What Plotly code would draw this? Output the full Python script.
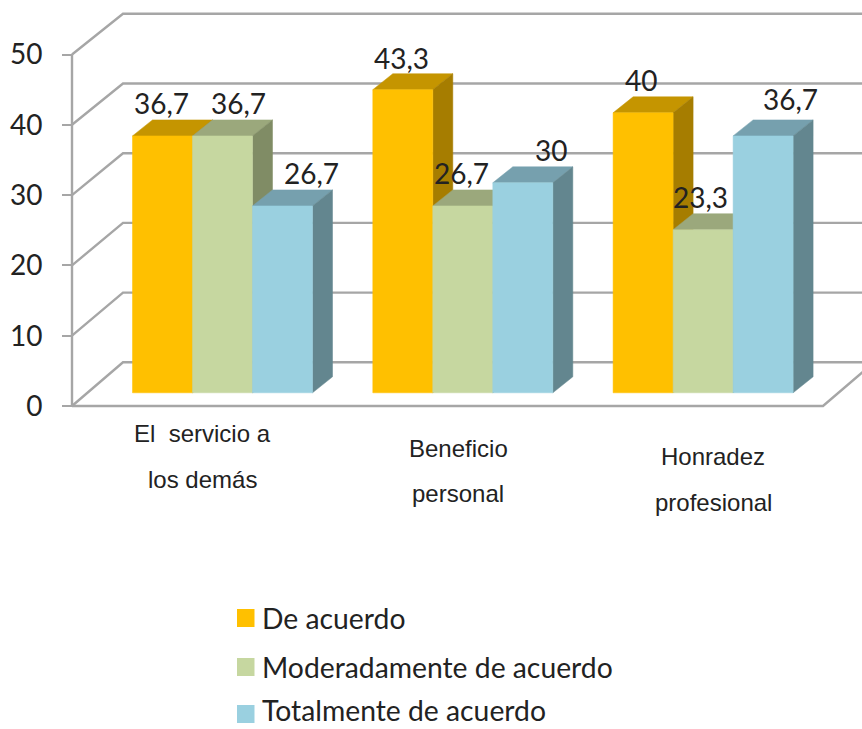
import plotly.graph_objects as go

# Survey data
categories = ["El  servicio a|los demás", "Beneficio|personal", "Honradez|profesional"]
series_names = ["De acuerdo", "Moderadamente de acuerdo", "Totalmente de acuerdo"]
de_acuerdo = [36.7, 43.3, 40]
moderadamente = [36.7, 26.7, 23.3]
totalmente = [26.7, 30, 36.7]
tick_values = [0, 10, 20, 30, 40, 50]

# Per-series face colours: front, top, side
front_colors = ["#FFC000", "#C6D7A0", "#9AD0E0"]
top_colors = ["#C59500", "#9BA87C", "#76A0AE"]
side_colors = ["#A67D00", "#808C65", "#63868F"]
GRID = "#A6A6A6"
INK = "#222222"

W, H = 862, 729
CAT_ORIGIN, CAT_STEP = 222.5, 240.3   # canvas x of the first cluster, cluster spacing
WALL_ZERO, WALL_UNIT = 406, 7.03      # front axis: canvas y of 0, px per unit
BAR_ZERO, BAR_UNIT = 392.8, 7.0       # bar front plane: canvas y of 0, px per unit
BAR_W = 60 / CAT_STEP
BAR_DX, BAR_DY = 20 / CAT_STEP, 16 / BAR_UNIT
AXIS_X = (72 - CAT_ORIGIN) / CAT_STEP
WALL_DX = 51 / CAT_STEP
WALL_DY = 43.7 / WALL_UNIT
BACK_RATIO = 6.97 / WALL_UNIT
FLOOR_END = (823 - CAT_ORIGIN) / CAT_STEP
X_MAX = (W - CAT_ORIGIN) / CAT_STEP

fig = go.Figure()


def line(xs, ys):
    fig.add_trace(go.Scatter(x=xs, y=ys, mode="lines", showlegend=False, hoverinfo="skip",
                             line=dict(color=GRID, width=2.4)))


def face(xs, ys, color, name):
    fig.add_trace(go.Scatter(x=xs + xs[:1], y=ys + ys[:1], mode="lines", fill="toself",
                             fillcolor=color, line=dict(color=color, width=0.5),
                             yaxis="y2", showlegend=False, name=name, hoverinfo="skip"))


# Back wall and left wall gridlines
for v in tick_values:
    back = WALL_DY + v * BACK_RATIO
    line([AXIS_X, AXIS_X + WALL_DX, X_MAX], [v, back, back])

# Front edge of the floor and the value axis
line([AXIS_X, FLOOR_END, FLOOR_END + WALL_DX], [0, 0, WALL_DY])
line([AXIS_X, AXIS_X], [tick_values[0], tick_values[-1]])

# Bars, painted left to right so that each one hides its neighbour's side
all_values = [de_acuerdo, moderadamente, totalmente]
for c in range(len(categories)):
    for s, values in enumerate(all_values):
        v = values[c]
        x0 = c + (s - 1.5) * BAR_W
        x1 = x0 + BAR_W
        face([x0, x0 + BAR_DX, x1 + BAR_DX, x1], [v, v + BAR_DY, v + BAR_DY, v],
             top_colors[s], series_names[s])
        face([x1, x1 + BAR_DX, x1 + BAR_DX, x1], [v, v + BAR_DY, BAR_DY, 0],
             side_colors[s], series_names[s])
        face([x0, x1, x1, x0], [0, 0, v, v], front_colors[s], series_names[s])

annotations = []

# Value labels, nudged off the bars in pixels: (xshift, yshift) by cluster and series
label_shifts = [
    [(-1, 33), (16, 33), (29, 33)],
    [(-1, 32), (-1, 33), (28, 33)],
    [(-2, 33), (-3, 33), (27, 37)],
]
for c in range(len(categories)):
    for s, values in enumerate(all_values):
        v = values[c]
        dx, dy = label_shifts[c][s]
        annotations.append(dict(
            x=c + (s - 1) * BAR_W, y=v, xref="x", yref="y2", xshift=dx, yshift=dy,
            text=f"{v:g}".replace(".", ","), showarrow=False, yanchor="middle",
            font=dict(family="Lato", size=28, color=INK)))

# Category labels, two lines set apart and stepped downward from left to right
label_centres = [202, 458, 713]
first_lines = [433, 448, 456]
LINE_GAP = 46
for name, cx, y1 in zip(categories, label_centres, first_lines):
    for i, part in enumerate(name.split("|")):
        annotations.append(dict(
            x=cx / W, y=1 - (y1 + i * LINE_GAP) / H, xref="paper", yref="paper",
            xanchor="center", yanchor="middle",
            text=part.replace("  ", "&nbsp; "), showarrow=False,
            font=dict(family="Liberation Sans", size=24, color=INK)))

# Legend, stacked under the plot
shapes = []
legend_rows = [618, 667, 710]
swatch_rows = [618, 667, 714]
for name, color, y, sy in zip(series_names, front_colors, legend_rows, swatch_rows):
    shapes.append(dict(type="rect", xref="paper", yref="paper", layer="above",
                       x0=237 / W, x1=254.5 / W, y0=1 - (sy + 9) / H, y1=1 - (sy - 9) / H,
                       fillcolor=color, line=dict(width=0)))
    annotations.append(dict(
        x=261 / W, y=1 - y / H, xref="paper", yref="paper", xanchor="left", yanchor="middle",
        text=name, showarrow=False, borderpad=0,
        font=dict(family="Lato", size=28.3, color=INK)))

fig.update_layout(
    width=W, height=H, margin=dict(l=0, r=0, t=0, b=0),
    paper_bgcolor="white", plot_bgcolor="white", showlegend=False,
    xaxis=dict(range=[-CAT_ORIGIN / CAT_STEP, X_MAX], visible=False, fixedrange=True),
    yaxis=dict(
        range=[-(H - WALL_ZERO) / WALL_UNIT, WALL_ZERO / WALL_UNIT],
        anchor="free", position=72 / W, showgrid=False, zeroline=False, showline=False,
        tickmode="array", tickvals=tick_values, ticks="outside", ticklen=10, tickwidth=2.4,
        tickcolor=GRID, ticklabelstandoff=14, fixedrange=True,
        tickfont=dict(family="Lato", size=28, color=INK)),
    yaxis2=dict(
        range=[-(H - BAR_ZERO) / BAR_UNIT, BAR_ZERO / BAR_UNIT],
        overlaying="y", visible=False, fixedrange=True),
    annotations=annotations, shapes=shapes,
)

fig.write_html("out.html", config=dict(displayModeBar=False))
